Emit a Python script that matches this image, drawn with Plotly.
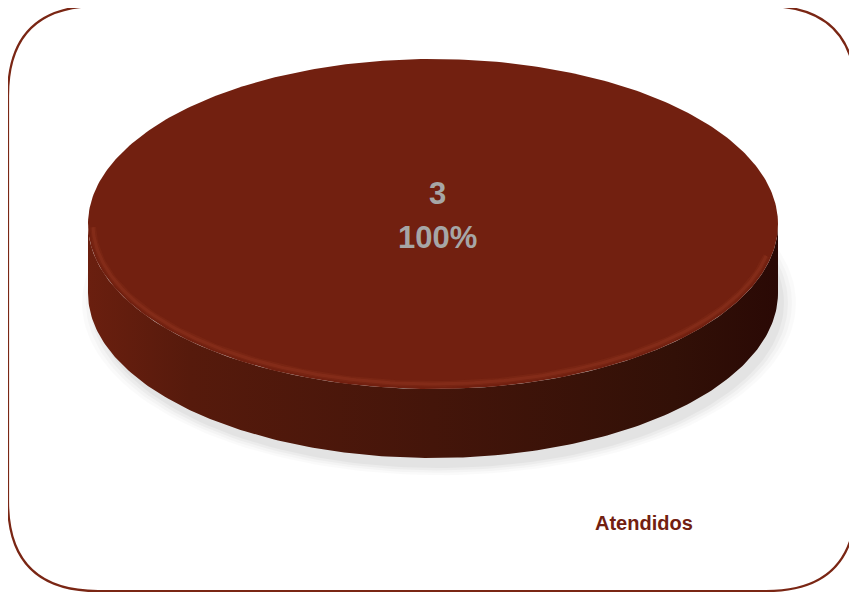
import numpy as np
import plotly.graph_objects as go

categories = ["Atendidos"]
values = [3]
label_color = "#a6a6a6"
slice_color = "#722010"

W, H = 857, 593
OFF = 8  # page body margin
total = sum(values)
frac = values[0] / total

# geometry of the 3D disc (pixel space)
cx, cy, rx, ry, thick = 433, 224, 345, 165, 69

fig = go.Figure()

# shadow
for k, a in enumerate([0.02, 0.025, 0.03, 0.035]):
    t = np.linspace(0, 2 * np.pi * frac, 200)
    grow = 12 - k * 4
    fig.add_trace(go.Scatter(
        x=cx + 6 + (rx + grow) * np.cos(t),
        y=cy + thick + 10 + (ry + grow * 0.6) * np.sin(t),
        fill="toself", mode="lines", line=dict(width=0),
        fillcolor=f"rgba(0,0,0,{a})", hoverinfo="skip", showlegend=False))

# side wall (front half)
ang = np.linspace(0, np.pi, 200) if frac >= 1 else np.linspace(0, min(np.pi, 2 * np.pi * frac), 200)
xs_top = cx + rx * np.cos(ang)
ys_top = cy + ry * np.sin(ang)
xs = np.concatenate([xs_top, xs_top[::-1]])
ys = np.concatenate([ys_top, ys_top[::-1] + thick])
fig.add_trace(go.Scatter(
    x=xs, y=ys, fill="toself", mode="lines", line=dict(width=0),
    fillgradient=dict(type="horizontal",
                      colorscale=[[0, "#6a1f0f"], [0.15, "#561a0c"], [0.5, "#44150a"],
                                  [0.85, "#321007"], [1, "#2a0905"]]),
    hoverinfo="skip", showlegend=False))

# top face
t = np.linspace(0, 2 * np.pi * frac, 400)
fig.add_trace(go.Scatter(
    x=cx + rx * np.cos(t), y=cy + ry * np.sin(t),
    fill="toself", mode="lines", line=dict(width=0),
    fillcolor=slice_color, name=categories[0], hoverinfo="skip", showlegend=False))

# rim highlight (soft)
ang2 = np.linspace(0.2, np.pi - 0.02, 200)
for w, a in [(6, 0.12), (3, 0.22)]:
    fig.add_trace(go.Scatter(
        x=cx + (rx - 5) * np.cos(ang2), y=cy + (ry - 5) * np.sin(ang2),
        mode="lines", line=dict(width=w, color=f"rgba(170,70,45,{a})"),
        hoverinfo="skip", showlegend=False))

# labels
fig.add_annotation(x=437, y=193, xref="x", yref="y", text=f"<b>{values[0]}</b>",
                   showarrow=False, font=dict(family="Liberation Sans", size=31, color=label_color))
fig.add_annotation(x=437, y=237, xref="x", yref="y", text=f"<b>{frac * 100:.0f}%</b>",
                   showarrow=False, font=dict(family="Liberation Sans", size=31, color=label_color))

# legend text
fig.add_annotation(x=644, y=523, xref="x", yref="y", text=f"<b>{categories[0]}</b>",
                   showarrow=False, font=dict(family="Liberation Sans", size=20, color="#722010"))

# rounded border
x0, y0, x1, y1, r = 8, 6, 856, 591, 90
path = (f"M {x0+r},{y0} L {x1-r},{y0} Q {x1},{y0} {x1},{y0+r} L {x1},{y1-r} "
        f"Q {x1},{y1} {x1-r},{y1} L {x0+r},{y1} Q {x0},{y1} {x0},{y1-r} "
        f"L {x0},{y0+r} Q {x0},{y0} {x0+r},{y0} Z")
fig.add_shape(type="path", path=path, xref="x", yref="y",
              line=dict(color="#7a2614", width=2.2), layer="below")

fig.update_layout(
    width=W - OFF, height=H - OFF, margin=dict(l=0, r=0, t=0, b=0),
    paper_bgcolor="white", plot_bgcolor="white",
    xaxis=dict(range=[OFF, W], visible=False, fixedrange=True),
    yaxis=dict(range=[H, OFF], visible=False, fixedrange=True),
    showlegend=False,
)
fig.write_html("out.html")
